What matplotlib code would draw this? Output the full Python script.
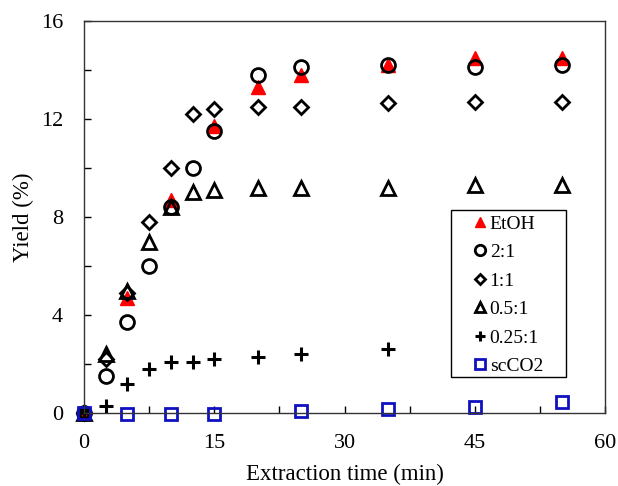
import numpy as np
import matplotlib.pyplot as plt
from matplotlib.ticker import MultipleLocator
from matplotlib.patches import Rectangle

# extraction time (min) and yield (%) for each solvent ratio
t_etoh = [0, 5, 10, 15, 20, 25, 35, 45, 55]
y_etoh = [0, 4.7, 8.7, 11.7, 13.3, 13.8, 14.2, 14.5, 14.5]

t_21 = [0, 2.5, 5, 7.5, 10, 12.5, 15, 20, 25, 35, 45, 55]
y_21 = [0, 1.5, 3.7, 6.0, 8.4, 10.0, 11.5, 13.8, 14.1, 14.2, 14.1, 14.2]

t_11 = [0, 2.5, 5, 7.5, 10, 12.5, 15, 20, 25, 35, 45, 55]
y_11 = [0, 2.2, 4.9, 7.8, 10.0, 12.2, 12.4, 12.5, 12.5, 12.65, 12.7, 12.7]

t_051 = [0, 2.5, 5, 7.5, 10, 12.5, 15, 20, 25, 35, 45, 55]
y_051 = [0, 2.4, 5.0, 7.0, 8.4, 9.0, 9.1, 9.2, 9.2, 9.2, 9.3, 9.3]

t_0251 = [0, 2.5, 5, 7.5, 10, 12.5, 15, 20, 25, 35]
y_0251 = [0, 0.3, 1.2, 1.8, 2.1, 2.1, 2.2, 2.3, 2.4, 2.6]

t_co2 = [0, 5, 10, 15, 25, 35, 45, 55]
y_co2 = [0, -0.05, -0.05, -0.05, 0.08, 0.15, 0.25, 0.45]

plt.rcParams['font.family'] = ['Liberation Serif', 'DejaVu Serif']

fig = plt.figure(figsize=(6.18, 4.86), dpi=100)
ax = fig.add_axes([0.136, 0.150, 0.843, 0.807])

ax.plot(t_etoh, y_etoh, ls='none', marker='^', ms=10, color='red', mec='red', label='EtOH')
ax.plot(t_21, y_21, ls='none', marker='o', ms=10, mfc='none', mec='black', mew=2.0, label='2:1')
ax.plot(t_11, y_11, ls='none', marker='D', ms=7, mfc='none', mec='black', mew=2.0, label='1:1')
ax.plot(t_051, y_051, ls='none', marker='^', ms=10, mfc='none', mec='black', mew=2.0, label='0.5:1')
ax.plot(t_0251, y_0251, ls='none', marker='+', ms=10, mec='black', mew=2.2, label='0.25:1')
ax.plot(t_co2, y_co2, ls='none', marker='s', ms=9, mfc='none', mec='#1010c0', mew=2.0, label='scCO2')

ax.set_xlim(0, 60)
ax.set_ylim(0, 16)
ax.xaxis.set_major_locator(MultipleLocator(15))
ax.xaxis.set_minor_locator(MultipleLocator(7.5))
ax.yaxis.set_major_locator(MultipleLocator(4))
ax.yaxis.set_minor_locator(MultipleLocator(2))
ax.tick_params(which='both', direction='in', labelsize=16, width=1, length=5)
ax.tick_params(axis='x', which='major', pad=15)
ax.tick_params(axis='y', which='major', pad=15)
for s in ax.spines.values():
    s.set_linewidth(1.0)
    s.set_color('#333333')

ax.set_xlabel('Extraction time (min)', fontsize=16.5, labelpad=8)
ax.set_ylabel('Yield (%)', fontsize=16.5, labelpad=5)

for art in ax.lines:
    art.set_clip_on(False)

# legend box drawn separately so it can be wider than the entries
box = Rectangle((0.704, 0.092), 0.221, 0.426, transform=ax.transAxes,
                facecolor='white', edgecolor='black', lw=1.0, zorder=4.5, clip_on=False)
ax.add_patch(box)
leg = ax.legend(loc='upper left', bbox_to_anchor=(0.745, 0.505), fontsize=14,
                frameon=False, handlelength=0.8, handletextpad=0.1, borderpad=0,
                borderaxespad=0, labelspacing=0.56, markerscale=0.75)
leg.set_zorder(5)

fig.savefig('out.png', dpi=100)
